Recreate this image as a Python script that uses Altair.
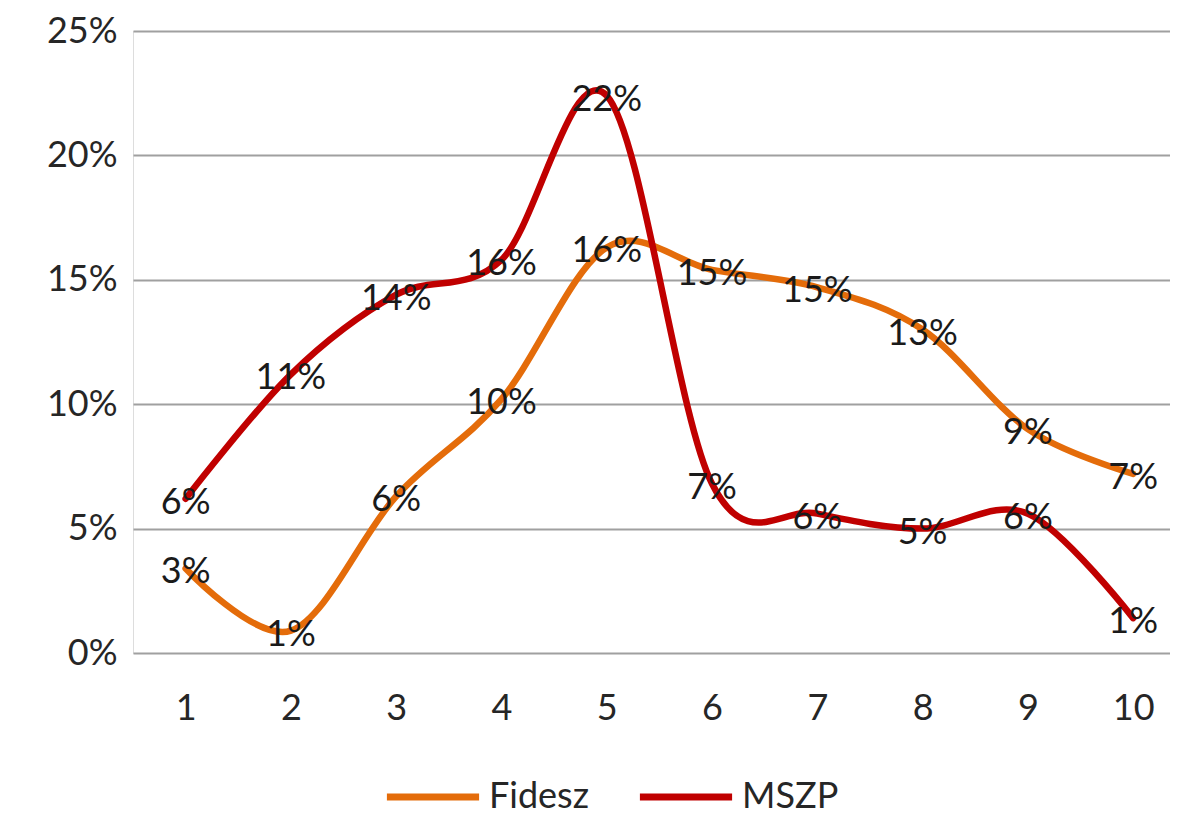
import altair as alt
import pandas as pd

categories = [1, 2, 3, 4, 5, 6, 7, 8, 9, 10]
fidesz = [3.4, 0.9, 6.3, 10.2, 16.3, 15.4, 14.7, 13.0, 9.0, 7.2]
mszp = [6.2, 11.2, 14.4, 15.8, 22.4, 6.8, 5.6, 5.0, 5.6, 1.4]
series_names = ["Fidesz", "MSZP"]
series_colors = ["#E46C0A", "#C00000"]
y_ticks = [0, 5, 10, 15, 20, 25]

rows = []
for name, vals in zip(series_names, [fidesz, mszp]):
    for c, v in zip(categories, vals):
        rows.append({"x": c, "v": v, "series": name})
df = pd.DataFrame(rows)

FONT = "Lato"
TXT = "#262626"

x_enc = alt.X("x:Q", scale=alt.Scale(domain=[0.5, 10.35], nice=False, zero=False),
              axis=alt.Axis(values=categories, grid=False, domain=False, ticks=False,
                            labelFontSize=36, labelFont=FONT, labelColor=TXT,
                            labelPadding=38, title=None, format="d"))
y_enc = alt.Y("v:Q", scale=alt.Scale(domain=[0, 25], nice=False),
              axis=alt.Axis(values=y_ticks, grid=True, gridColor="#A0A0A0", gridWidth=2,
                            domain=False, ticks=False, labelFontSize=36, labelFont=FONT,
                            labelColor=TXT, labelPadding=16, title=None,
                            labelExpr="datum.value + '%'"))

base = alt.Chart(df)

lines = base.mark_line(interpolate="cardinal", strokeWidth=6.5, strokeCap="round").encode(
    x=x_enc, y=y_enc,
    color=alt.Color("series:N", scale=alt.Scale(domain=series_names, range=series_colors),
                    legend=alt.Legend(title=None, orient="none", direction="horizontal",
                                      legendX=250, legendY=716,
                                      symbolType="stroke", symbolSize=8500,
                                      symbolStrokeWidth=7, labelFontSize=36,
                                      labelFont=FONT, labelColor=TXT, labelOffset=6,
                                      columnPadding=36)),
    detail="series:N",
)

labels = base.transform_calculate(
    lab="format(datum.v, '.0f') + '%'"
).mark_text(fontSize=36, font=FONT, color="#1a1a1a", baseline="middle", dy=4).encode(
    x="x:Q", y="v:Q", text="lab:N"
)

chart = alt.layer(lines, labels).properties(
    width=1037, height=622,
    autosize=alt.AutoSizeParams(type="none"),
    padding={"left": 125, "top": 23, "right": 0, "bottom": 166},
).configure_view(stroke=None).configure(background="white")

chart.save("out.html", embed_options={"renderer": "svg", "actions": False})
